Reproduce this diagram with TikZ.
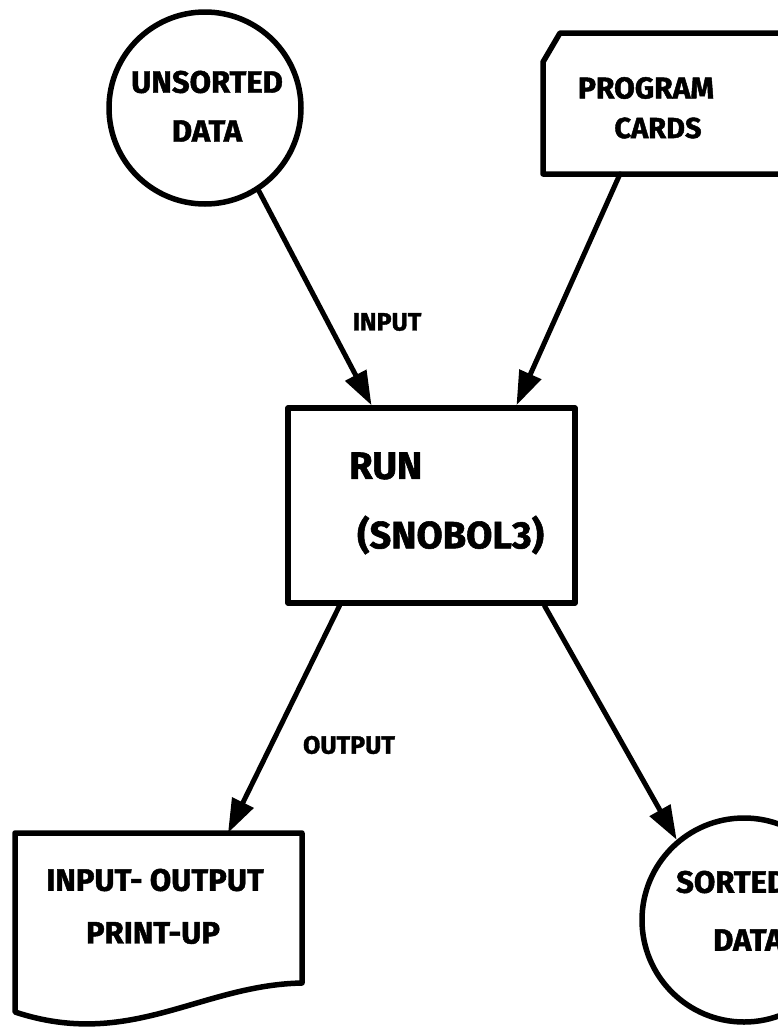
\documentclass[tikz,border=0pt]{standalone}
\usepackage{fontspec}
\setmainfont{Fira Sans}[BoldFeatures={FakeBold=1.5}]
\usetikzlibrary{arrows.meta}
\begin{document}
\begin{tikzpicture}[x=1pt,y=-1pt,
  outline/.style={line width=5.5pt, line join=round, line cap=round},
  flow/.style={line width=5pt, line cap=round, -{Triangle[length=34pt,width=23pt]}},
  bigtext/.style={font=\bfseries\fontsize{31}{34}\selectfont, inner sep=0pt},
  boxtext/.style={font=\bfseries\fontsize{38}{42}\selectfont, inner sep=0pt, anchor=west},
  flowtext/.style={font=\bfseries\fontsize{25}{28}\selectfont, inner sep=0pt}]
\useasboundingbox (0,0) rectangle (778,1028);
\clip (0,0) rectangle (778,1028);

% source data drum
\node[circle, draw, outline, minimum size=192pt, inner sep=0pt] (unsorted) at (205,108) {};
\node[bigtext] (unsortedA) at (207,82) {UNSORTED};
\node[bigtext] (unsortedB) at (207,131) {DATA};

% program card deck (clipped corner)
\draw[outline] (800,33) -- (560,33) -- (543,62) -- (543,174) -- (800,174);
\coordinate (cardsfoot) at (620,174);
\node[bigtext, font=\bfseries\fontsize{30}{33}\selectfont] (cardsA) at (646,88) {PROGRAM};
\node[bigtext, font=\bfseries\fontsize{29}{32}\selectfont] (cardsB) at (658,128) {CARDS};

% processing step
\node[draw, outline, minimum width=287pt, minimum height=195pt] (run) at (431.5,505.5) {};
\node[boxtext] (runA) at (349,466) {RUN};
\node[boxtext] (runB) at (357,535) {(SNOBOL3)};

% print-out document
\draw[outline] (15,833) -- (302,833) -- (302,983)
  .. controls (200,985) and (130,1050) .. (15,1012) -- cycle;
\coordinate (printtop) at (228,833);
\node[bigtext] (printA) at (155,880) {INPUT- OUTPUT};
\node[bigtext] (printB) at (153,933) {PRINT-UP};

% result data drum
\node[circle, draw, outline, minimum size=204pt, inner sep=0pt] (sorted) at (744,920) {};
\node[bigtext, anchor=west] (sortedA) at (676,882) {SORTED};
\node[bigtext, anchor=west] (sortedB) at (713,940) {DATA};

% flow lines
\draw[flow] (unsorted.-57) -- ([xshift=-60pt]run.north);
\draw[flow] (cardsfoot) -- ([xshift=85pt]run.north);
\draw[flow] ([xshift=-92pt]run.south) -- (printtop);
\draw[flow] ([xshift=113pt]run.south) -- (sorted.130);

\node[flowtext] (inlabel) at (387,322) {INPUT};
\node[flowtext] (outlabel) at (349,745) {OUTPUT};
\end{tikzpicture}
\end{document}
